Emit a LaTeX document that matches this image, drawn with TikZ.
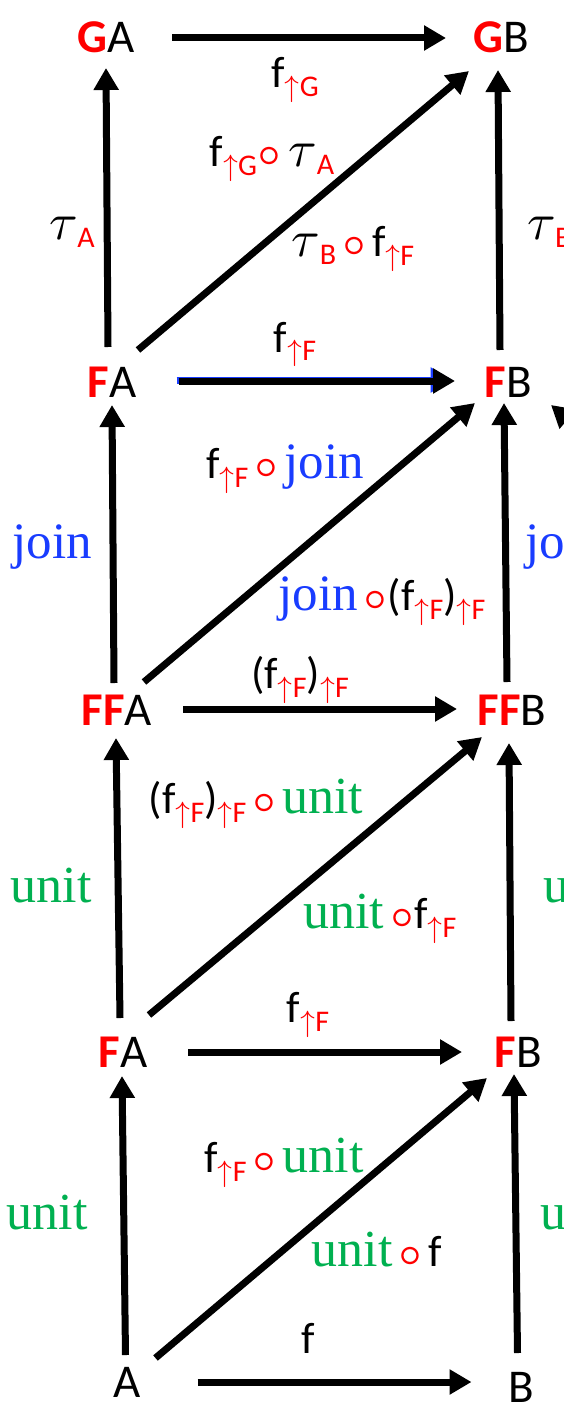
\documentclass[tikz,border=0pt]{standalone}
\usepackage{fontspec}
\usepackage{unicode-math}
\setmainfont{Carlito}
\setmathfont{Latin Modern Math}
\newfontfamily\serfam{Liberation Serif}
\usetikzlibrary{arrows.meta,calc}
\definecolor{jblue}{RGB}{25,60,255}
\definecolor{ugreen}{RGB}{0,176,80}
\definecolor{pred}{RGB}{255,0,0}
\newcommand\up[1]{\raisebox{-9pt}{\color{pred}\fontsize{30}{30}\selectfont$\uparrow$#1}}
\newcommand\rs[1]{\raisebox{-8pt}{\color{pred}\fontsize{30}{30}\selectfont #1}}
\newcommand\cmp{\raisebox{-4pt}{\color{pred}\fontsize{58}{58}\selectfont$\circ$}}
\newcommand\tauu{{\fontsize{52}{52}\selectfont$\tau$}}
\newcommand\jn{{\serfam\fontsize{51}{51}\selectfont\color{jblue}join}}
\newcommand\un{{\serfam\fontsize{52}{52}\selectfont\color{ugreen}unit}}
\begin{document}
\begin{tikzpicture}[x=1pt,y=-1pt,
  obj/.style={inner sep=0pt, anchor=base, font=\fontsize{47}{50}\selectfont},
  lbl/.style={inner sep=0pt, anchor=base, font=\fontsize{44}{48}\selectfont},
  lblw/.style={lbl, anchor=base west},
  arr/.style={line width=7pt, -{Triangle[length=22pt,width=24pt]}},
  barr/.style={arr, draw=jblue}]
\useasboundingbox (0,0) rectangle (564,1404);
\fill[white] (0,0) rectangle (564,1404);
% objects
\node[obj] (GA)  at (106,53)   {{\bfseries\color{pred}G}A};
\node[obj] (GB)  at (501.5,53) {{\bfseries\color{pred}G}B};
\node[obj] (FA1) at (112,397)  {{\bfseries\color{pred}F}A};
\node[obj] (FB1) at (508,397)  {{\bfseries\color{pred}F}B};
\node[obj] (FFA) at (117,725)  {{\bfseries\color{pred}FF}A};
\node[obj] (FFB) at (512,725)  {{\bfseries\color{pred}FF}B};
\node[obj] (FA2) at (123,1067) {{\bfseries\color{pred}F}A};
\node[obj] (FB2) at (518,1067) {{\bfseries\color{pred}F}B};
\node[obj] (A)   at (127.5,1397) {A};
\node[obj] (B)   at (521.5,1402) {B};
\coordinate (off) at (716,545);
% arrows top block
\draw[arr] ([shift={(66,-15)}]GA.base) -- ([shift={(-55.5,-15)}]GB.base);
\draw[arr] ([shift={(-4,-50)}]FA1.base) -- ([shift={(0,15)}]GA.base);
\draw[arr] ([shift={(-8,-47)}]FB1.base) -- ([shift={(-3.5,17)}]GB.base);
\draw[arr] ([shift={(26,-47)}]FA1.base) -- ([shift={(-32.5,18)}]GB.base);
\draw[barr] ([shift={(64.5,-17)}]FA1.base) -- ([shift={(-55.5,-17)}]FB1.base);
\draw[arr] ([shift={(67,-16)}]FA1.base) -- ([shift={(-53,-16)}]FB1.base);
% second block
\draw[arr] ([shift={(-3,-42)}]FFA.base) -- ([shift={(0,8)}]FA1.base);
\draw[arr] ([shift={(27,-43)}]FFA.base) -- ([shift={(-33,6)}]FB1.base);
\draw[arr] ([shift={(-5,-43)}]FFB.base) -- ([shift={(-4,6)}]FB1.base);
\draw[arr] (off) -- ([shift={(43,8)}]FB1.base);
\draw[arr] ([shift={(66,-16)}]FFA.base) -- ([shift={(-55,-16)}]FFB.base);
% third block
\draw[arr] ([shift={(-3,-49)}]FA2.base) -- ([shift={(-1,13)}]FFA.base);
\draw[arr] ([shift={(26,-52)}]FA2.base) -- ([shift={(-30,12)}]FFB.base);
\draw[arr] ([shift={(-7,-46)}]FB2.base) -- ([shift={(-3,18)}]FFB.base);
\draw[arr] ([shift={(65,-15)}]FA2.base) -- ([shift={(-56,-15)}]FB2.base);
% bottom block
\draw[arr] ([shift={(-2,-42)}]A.base) -- ([shift={(-1,9)}]FA2.base);
\draw[arr] ([shift={(28,-39)}]A.base) -- ([shift={(-31,11)}]FB2.base);
\draw[arr] ([shift={(-4,-49)}]B.base) -- ([shift={(-4,7)}]FB2.base);
\draw[arr] ([shift={(70,-15)}]A.base) -- ([shift={(-50,-20)}]B.base);
% labels
\node[lbl] (l1) at (295,88) {f\up{G}};
\node[lbl] (l2) at (272,167) {f\up{G}\cmp\hspace{8pt}\tauu\rs{A}};
\node[lbl] (l3) at (72,240) {\tauu\rs{A}};
\node[lbl] (l4) at (353,257) {\tauu\rs{B}\hspace{6pt}\cmp\hspace{6pt}f\up{F}};
\node[lblw] (l5) at (527,240) {\tauu\rs{B}};
\node[lbl] (l6) at (295,352) {f\up{F}};
\node[lbl] (l7) at (285,478) {f\up{F}\hspace{6pt}\cmp\hspace{6pt}\jn};
\node[lbl] (l8) at (52,558) {\jn};
\node[lbl] (l9) at (382,610) {\jn\hspace{6pt}\cmp(f\up{F})\up{F}};
\node[lblw] (l10) at (525,558) {\jn};
\node[lbl] (l11) at (300,688) {(f\up{F})\up{F}};
\node[lbl] (l12) at (256,813) {(f\up{F})\up{F}\hspace{6pt}\cmp\hspace{6pt}\un};
\node[lbl] (l13) at (51,902) {\un};
\node[lbl] (l14) at (380,928) {\un\hspace{6pt}\cmp f\up{F}};
\node[lblw] (l15) at (543,902) {\un};
\node[lbl] (l16) at (308,1022) {f\up{F}};
\node[lbl] (l17) at (284,1172) {f\up{F}\hspace{6pt}\cmp\hspace{6pt}\un};
\node[lbl] (l18) at (47,1229) {\un};
\node[lbl] (l19) at (377,1266) {\un\hspace{6pt}\cmp\hspace{6pt}f};
\node[lblw] (l20) at (540,1229) {\un};
\node[lbl] (l21) at (308,1353) {f};
\end{tikzpicture}
\end{document}
